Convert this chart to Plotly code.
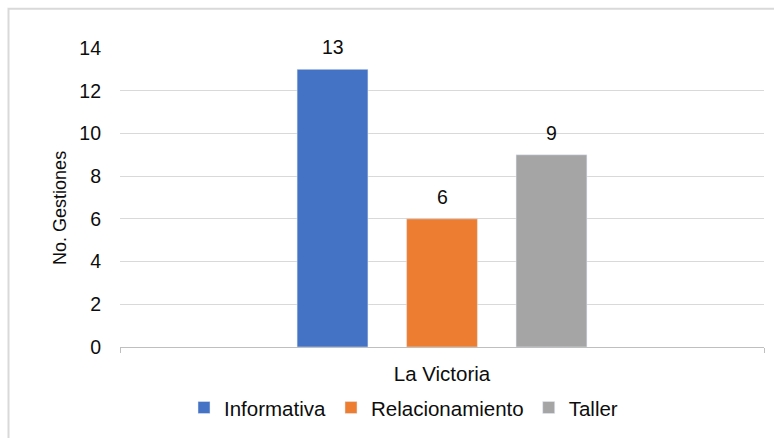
import plotly.graph_objects as go

# Data
category = ["La Victoria"]
series = ["Informativa", "Relacionamiento", "Taller"]
values = [13, 6, 9]
colors = ["#4472C4", "#ED7D31", "#A5A5A5"]

fig = go.Figure()
for name, val, col in zip(series, values, colors):
    fig.add_trace(go.Bar(x=category, y=[val], name=name, marker_color=col))

# data labels above the bars (shifted to each bar's slot in the group)
slot_px = 109.5
for i, val in enumerate(values):
    fig.add_annotation(x=category[0], y=val, text=str(val), showarrow=False,
                       xshift=(i - 1) * slot_px, yshift=9, yanchor="bottom",
                       font=dict(size=19.5, color="#0d0d0d"))

# y axis title (Excel places it a bit below the plot centre)
fig.add_annotation(text="No. Gestiones", textangle=-90, showarrow=False,
                   xref="paper", yref="paper", x=(60 - 120) / 644, y=(349 - 209) / 301,
                   xanchor="center", yanchor="middle", font=dict(size=18, color="#0d0d0d"))

fig.update_layout(
    width=774, height=438,
    margin=dict(l=120, r=10, t=48, b=89),
    paper_bgcolor="white", plot_bgcolor="white",
    font=dict(family="Liberation Sans, Arial, sans-serif", size=19.5, color="#0d0d0d"),
    barmode="group", bargap=0.49, bargroupgap=0.353,
    showlegend=True,
    legend=dict(orientation="h", x=(184 - 120) / 644, xanchor="left", y=-0.203, yanchor="middle",
                font=dict(size=20.5), itemclick=False),
)

fig.update_yaxes(
    range=[0, 14], dtick=2, showgrid=True, gridcolor="#d9d9d9", gridwidth=1,
    zeroline=False, showline=False, ticks="", ticklabelstandoff=18,
)
fig.update_xaxes(
    showline=True, linecolor="#bfbfbf", linewidth=1,
    ticks="outside", tickson="boundaries", ticklen=5, tickcolor="#bfbfbf",
    ticklabelstandoff=8, tickfont=dict(size=20.5),
)

# chart area border (Excel style)
fig.add_shape(type="rect", xref="paper", yref="paper",
              x0=(8.5 - 120) / 644, x1=1.05, y0=-0.35, y1=(349 - 8.5) / 301,
              line=dict(color="#d9d9d9", width=2), fillcolor="rgba(0,0,0,0)", layer="below")

fig.write_html("out.html", config={"displayModeBar": False},
               post_script="document.body.style.margin='0';")
